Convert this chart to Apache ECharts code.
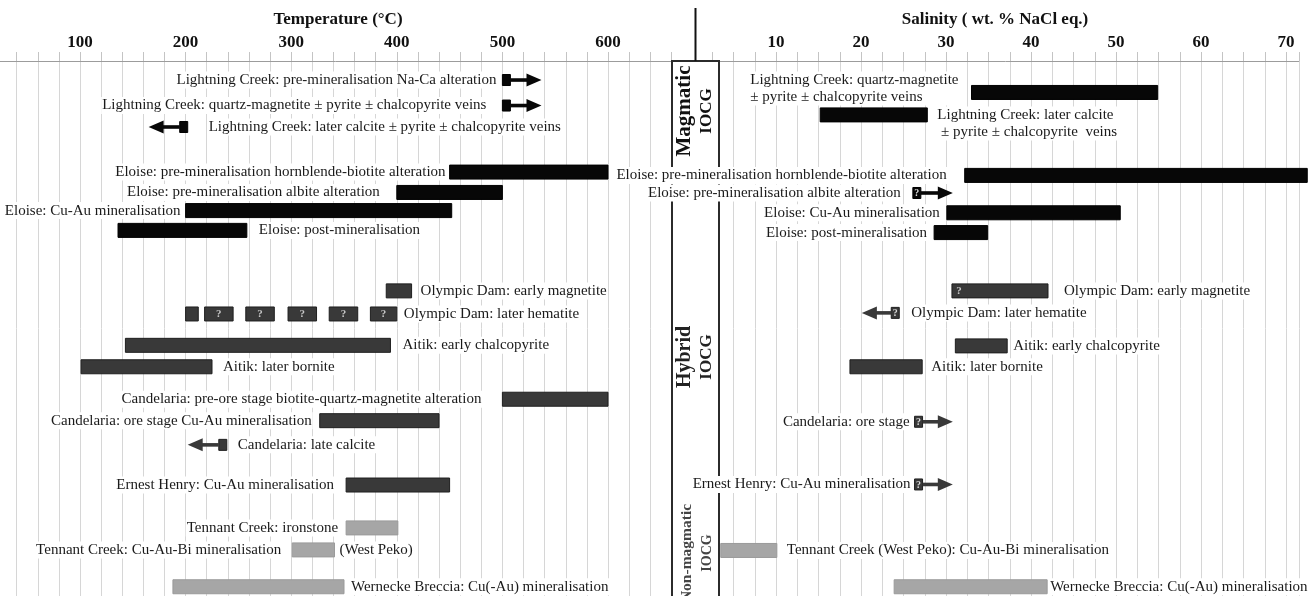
<!DOCTYPE html>
<html><head><meta charset="utf-8">
<script src="https://cdn.jsdelivr.net/npm/echarts@6/dist/echarts.min.js"></script>
<style>html,body{margin:0;padding:0;background:#fff}#c{width:1309px;height:596px}</style>
</head><body><div id="c"></div><script>
// ---------------- DATA: left panel, temperature (°C) ----------------
const tempLabels = [
  'Lightning Creek: pre-mineralisation Na-Ca alteration',
  'Lightning Creek: quartz-magnetite \u00b1 pyrite \u00b1 chalcopyrite veins',
  'Lightning Creek: later calcite \u00b1 pyrite \u00b1 chalcopyrite veins',
  'Eloise: pre-mineralisation hornblende-biotite alteration',
  'Eloise: pre-mineralisation albite alteration',
  'Eloise: Cu-Au mineralisation',
  'Eloise: post-mineralisation',
  'Olympic Dam: early magnetite',
  'Olympic Dam: later hematite',
  'Aitik: early chalcopyrite',
  'Aitik: later bornite',
  'Candelaria: pre-ore stage biotite-quartz-magnetite alteration',
  'Candelaria: ore stage Cu-Au mineralisation',
  'Candelaria: late calcite',
  'Ernest Henry: Cu-Au mineralisation',
  'Tennant Creek: ironstone',
  'Tennant Creek: Cu-Au-Bi mineralisation',
  'Wernecke Breccia: Cu(-Au) mineralisation'
];
const tempExtraLabels = ['','','','','','','','','','','','','','','','','(West Peko)',''];
const tempStart = [500, 500, 165, 450, 400, 200, 136, 390, 200, 143, 101, 500, 327, 202, 352, 352, 301, 188];
const tempEnd   = [537, 537, 202, 600, 500, 452, 258, 414, 400, 394, 225, 600, 440, 239, 450, 401, 341, 350];
const tempRow   = [1.73, 4.05, 6.0, 10.1, 11.95, 13.6, 15.4, 20.9, 23.0, 25.85, 27.8, 30.75, 32.7, 34.9, 38.55, 42.45, 44.45, 47.8];
const tempMark  = ['arrowR','arrowR','arrowL','bar','bar','bar','bar','bar','dash','bar','bar','bar','bar','arrowL','bar','bar','bar','bar'];
const tempGroup = ['m','m','m','m','m','m','m','h','h','h','h','h','h','h','h','n','n','n'];
const tempSide  = ['L','L','R','L','L','L','R','R','R','R','R','L','L','R','L','L','L','R'];
const tempQuery = [false,false,false,false,false,false,false,false,false,false,false,false,false,false,false,false,false,false];
const hematiteDashStart = [200, 218, 257, 297, 336, 375];
const hematiteDashEnd   = [212, 245, 284, 324, 363, 400];
const hematiteDashQuery = [false, true, true, true, true, true];
const tempTicks = [100, 200, 300, 400, 500, 600];

// ---------------- DATA: right panel, salinity (wt. % NaCl eq.) ----------------
const salLabels = [
  'Lightning Creek: quartz-magnetite\n\u00b1 pyrite \u00b1 chalcopyrite veins',
  'Lightning Creek: later calcite\n \u00b1 pyrite \u00b1 chalcopyrite  veins',
  'Eloise: pre-mineralisation hornblende-biotite alteration',
  'Eloise: pre-mineralisation albite alteration',
  'Eloise: Cu-Au mineralisation',
  'Eloise: post-mineralisation',
  'Olympic Dam: early magnetite',
  'Olympic Dam: later hematite',
  'Aitik: early chalcopyrite',
  'Aitik: later bornite',
  'Candelaria: ore stage',
  'Ernest Henry: Cu-Au mineralisation',
  'Tennant Creek (West Peko): Cu-Au-Bi mineralisation',
  'Wernecke Breccia: Cu(-Au) mineralisation'
];
const salStart = [33, 15.2, 32.2, 26.1, 30.1, 28.6, 30.7, 20.1, 31.1, 18.7, 26.3, 26.3, 3.5, 23.9];
const salEnd   = [54.9, 27.8, 72.5, 30.8, 50.5, 34.9, 42.0, 24.5, 37.2, 27.2, 30.8, 30.8, 10.1, 41.9];
const salRow   = [2.86, 4.9, 10.4, 12.0, 13.8, 15.6, 20.9, 22.9, 25.9, 27.8, 32.8, 38.5, 44.5, 47.8];
const salMark  = ['bar','bar','bar','arrowR','bar','bar','bar','arrowL','bar','bar','arrowR','arrowR','bar','bar'];
const salGroup = ['m','m','m','m','m','m','h','h','h','h','h','h','n','n'];
const salSide  = ['L','R','L','L','L','L','R','R','R','R','L','L','R','R'];
const salQuery = [false,false,false,true,false,false,true,true,false,false,true,true,false,false];
const salTicks = [10, 20, 30, 40, 50, 60, 70];

// ---------------- LAYOUT / STYLE (not data) ----------------
const tempGap = [5, 15, 20, 3, 16, 4, 11, 8, 6, 11, 10, 20, 7, 10, 11, 7, 10, 6];
const tempDy  = tempGap.map(() => 0);
const salGap  = [14, 9, 17, 11, 6, 6, 15, 11, 5, 8, 4, 3, 9, 2];
const salDy   = [-4, 8.5, 0, 0, 0, 0, 0, 0, 0, 0, 0, 0, 0, 0];

const FF = '"Liberation Serif","Times New Roman",serif';
const LABEL_SIZE = 15, LINE_H = 17;
const BAR_H = 14, BOX_W = 8, BOX_H = 11, HEAD_L = 15, HEAD_H = 13, SHAFT = 3.6;
const FILL = { m: '#070707', h: '#393939', n: '#a6a6a6' };
const EDGE = { m: '#000000', h: '#1f1f1f', n: '#9a9a9a' };

const mctx = document.createElement('canvas').getContext('2d');
function textWidth(t) { mctx.font = LABEL_SIZE + 'px ' + FF; return mctx.measureText(t).width; }

function rectEl(x, y, w, h, fill, stroke) {
  return { type: 'rect', shape: { x, y, width: w, height: h },
    style: { fill, stroke: stroke || null, lineWidth: stroke ? 1 : 0 } };
}
function polyEl(points, fill) { return { type: 'polygon', shape: { points }, style: { fill } }; }
function qEl(cx, cy, size, color) {
  return { type: 'text', z2: 15, style: { text: '?', x: cx, y: cy, align: 'center', verticalAlign: 'middle',
    fontSize: size, fontWeight: 'bold', fontFamily: FF, fill: color } };
}
function labelEl(text, x, y, align) {
  return { type: 'text', z2: 20, style: { text, x, y, align, verticalAlign: 'middle',
    fontSize: LABEL_SIZE, fontFamily: FF, fill: '#1a1a1a', lineHeight: LINE_H,
    backgroundColor: '#ffffff', padding: [0, 1] } };
}

function makeRender(P) {
  return function (params, api) {
    const i = params.dataIndex;
    const p0 = api.coord([api.value(0), api.value(2)]);
    const x0 = p0[0], y = p0[1];
    const x1 = api.coord([api.value(1), api.value(2)])[0];
    const g = P.group[i], fill = FILL[g], edge = EDGE[g];
    const kids = [];
    const mark = P.mark[i];
    if (mark === 'bar') {
      kids.push(rectEl(x0, y - BAR_H / 2, x1 - x0, BAR_H, fill, edge));
      if (P.query[i]) kids.push(qEl(x0 + 7, y, 11, '#c8c8c8'));
    } else if (mark === 'arrowR') {
      kids.push(rectEl(x0, y - BOX_H / 2, BOX_W, BOX_H, fill, edge));
      if (P.query[i]) kids.push(qEl(x0 + BOX_W / 2, y + 0.5, 10, '#dcdcdc'));
      kids.push(rectEl(x0 + BOX_W, y - SHAFT / 2, x1 - HEAD_L - x0 - BOX_W + 1, SHAFT, fill));
      kids.push(polyEl([[x1 - HEAD_L, y - HEAD_H / 2], [x1, y], [x1 - HEAD_L, y + HEAD_H / 2]], fill));
    } else if (mark === 'arrowL') {
      kids.push(rectEl(x1 - BOX_W, y - BOX_H / 2, BOX_W, BOX_H, fill, edge));
      if (P.query[i]) kids.push(qEl(x1 - BOX_W / 2, y + 0.5, 10, '#dcdcdc'));
      kids.push(rectEl(x0 + HEAD_L - 1, y - SHAFT / 2, x1 - BOX_W - x0 - HEAD_L + 1, SHAFT, fill));
      kids.push(polyEl([[x0 + HEAD_L, y - HEAD_H / 2], [x0, y], [x0 + HEAD_L, y + HEAD_H / 2]], fill));
    } else if (mark === 'dash') {
      P.dashStart.forEach((s, k) => {
        const a = api.coord([s, api.value(2)])[0];
        const b = api.coord([P.dashEnd[k], api.value(2)])[0];
        kids.push(rectEl(a, y - BAR_H / 2, b - a, BAR_H, fill, edge));
        if (P.dashQuery[k]) kids.push(qEl((a + b) / 2, y, 11, '#c8c8c8'));
      });
    }
    const text = P.labels[i];
    const ly = y + P.dy[i];
    if (P.side[i] === 'L') {
      const lines = text.split('\n');
      if (lines.length > 1) {
        const w = Math.max.apply(null, lines.map(textWidth));
        kids.push(labelEl(text, x0 - P.gap[i] - w, ly, 'left'));
      } else {
        kids.push(labelEl(text, x0 - P.gap[i], ly, 'right'));
      }
    } else {
      kids.push(labelEl(text, x1 + P.gap[i], ly, 'left'));
    }
    if (P.extra && P.extra[i]) kids.push(labelEl(P.extra[i], x1 + 4, y, 'left'));
    return { type: 'group', children: kids };
  };
}

const TEMP = { labels: tempLabels, extra: tempExtraLabels, mark: tempMark, group: tempGroup, side: tempSide,
  query: tempQuery, gap: tempGap, dy: tempDy,
  dashStart: hematiteDashStart, dashEnd: hematiteDashEnd, dashQuery: hematiteDashQuery };
const SAL = { labels: salLabels, mark: salMark, group: salGroup, side: salSide,
  query: salQuery, gap: salGap, dy: salDy, dashStart: [], dashEnd: [], dashQuery: [] };

const ROW_MAX = 48.64;
const axisCommon = {
  type: 'value', position: 'top',
  axisLine: { show: true, lineStyle: { color: '#9c9c9c', width: 1 } },
  axisTick: { show: true, length: 9, lineStyle: { color: '#c4c4c4' } },
  splitLine: { show: true, lineStyle: { color: '#d6d6d6', width: 1 } },
};
const labelStyle = { color: '#111', fontFamily: FF, fontWeight: 'bold', fontSize: 17, margin: 10 };

const chart = echarts.init(document.getElementById('c'), null, { renderer: 'canvas' });
chart.setOption({
  animation: false,
  backgroundColor: '#ffffff',
  grid: [
    { left: -4.48, top: 61, width: 675.84, height: 535, outerBoundsMode: 'none', containLabel: false },
    { left: 712.25, top: 61, width: 586.5, height: 535, outerBoundsMode: 'none', containLabel: false }
  ],
  xAxis: [
    Object.assign({}, axisCommon, { gridIndex: 0, min: 20, max: 660, interval: 20,
      axisLabel: Object.assign({}, labelStyle, { formatter: v => tempTicks.indexOf(v) >= 0 ? String(v) : '' }) }),
    Object.assign({}, axisCommon, { gridIndex: 1, min: 2.5, max: 71.5, interval: 2.5,
      axisLabel: Object.assign({}, labelStyle, { formatter: v => salTicks.indexOf(Math.round(v * 100) / 100) >= 0 ? String(v) : '' }) })
  ],
  yAxis: [
    { gridIndex: 0, type: 'value', inverse: true, min: 0, max: ROW_MAX, show: false },
    { gridIndex: 1, type: 'value', inverse: true, min: 0, max: ROW_MAX, show: false }
  ],
  graphic: [
    { type: 'rect', z: 1, shape: { x: 672, y: 61, width: 47, height: 560 },
      style: { fill: '#ffffff', stroke: '#2b2b2b', lineWidth: 2 } },
    { type: 'line', z: 1, shape: { x1: 695.5, y1: 8, x2: 695.5, y2: 61 }, style: { stroke: '#111', lineWidth: 2 } },
    { type: 'text', z: 1, x: 695.5, y: 111, rotation: Math.PI / 2,
      style: { text: '{a|Magmatic}\n{b|IOCG}', align: 'center', verticalAlign: 'middle', fill: '#111',
        rich: { a: { fontSize: 21, fontWeight: 'bold', fontFamily: FF, lineHeight: 22, fill: '#111' },
                b: { fontSize: 17, fontWeight: 'bold', fontFamily: FF, lineHeight: 22, fill: '#111' } } } },
    { type: 'text', z: 1, x: 695.5, y: 357, rotation: Math.PI / 2,
      style: { text: '{a|Hybrid}\n{b|IOCG}', align: 'center', verticalAlign: 'middle', fill: '#222',
        rich: { a: { fontSize: 20, fontWeight: 'bold', fontFamily: FF, lineHeight: 22, fill: '#222' },
                b: { fontSize: 17, fontWeight: 'bold', fontFamily: FF, lineHeight: 22, fill: '#222' } } } },
    { type: 'text', z: 1, x: 697, y: 553, rotation: Math.PI / 2,
      style: { text: '{a|Non-magmatic}\n{b|IOCG}', align: 'center', verticalAlign: 'middle', fill: '#444',
        rich: { a: { fontSize: 15.5, fontWeight: 'bold', fontFamily: FF, lineHeight: 20, fill: '#444' },
                b: { fontSize: 14, fontWeight: 'bold', fontFamily: FF, lineHeight: 20, fill: '#444' } } } },
    { type: 'text', z: 1, x: 338, y: 20,
      style: { text: 'Temperature (\u00b0C)', align: 'center', verticalAlign: 'middle',
        fontSize: 17, fontWeight: 'bold', fontFamily: FF, fill: '#111' } },
    { type: 'text', z: 1, x: 995, y: 20,
      style: { text: 'Salinity ( wt. % NaCl eq.)', align: 'center', verticalAlign: 'middle',
        fontSize: 17, fontWeight: 'bold', fontFamily: FF, fill: '#111' } }
  ],
  series: [
    { type: 'custom', name: 'Temperature', xAxisIndex: 0, yAxisIndex: 0, z: 2, clip: false, silent: true,
      renderItem: makeRender(TEMP), encode: { x: [0, 1], y: 2 },
      data: tempStart.map((s, i) => [s, tempEnd[i], tempRow[i]]) },
    { type: 'custom', name: 'Salinity', xAxisIndex: 1, yAxisIndex: 1, z: 2, clip: false, silent: true,
      renderItem: makeRender(SAL), encode: { x: [0, 1], y: 2 },
      data: salStart.map((s, i) => [s, salEnd[i], salRow[i]]) }
  ]
});
</script></body></html>
